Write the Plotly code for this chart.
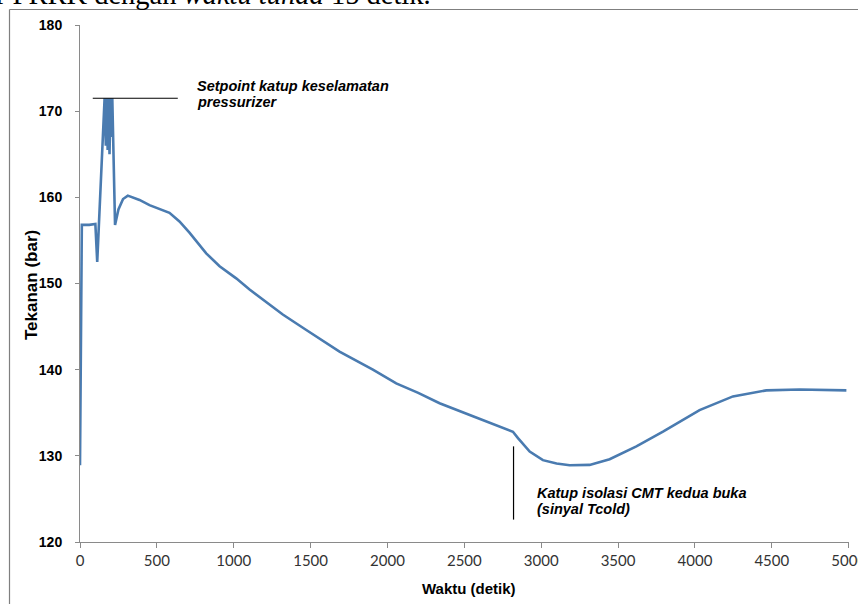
import plotly.graph_objects as go

# Tekanan pressurizer terhadap waktu
waktu = [0, 5, 12, 60, 100, 112, 160, 168, 174, 180, 186, 192, 198, 204, 210, 228,
         250, 280, 311, 387, 452, 582, 647, 712, 756, 821, 908, 1016, 1103, 1200,
         1319, 1472, 1688, 1905, 2057, 2200, 2339, 2556, 2700, 2816, 2849, 2925,
         3011, 3100, 3185, 3315, 3445, 3619, 3792, 3922, 4030, 4247, 4464, 4681, 4985]
tekanan = [128.9, 148.3, 156.8, 156.8, 156.9, 152.5, 171.5, 166.0, 171.5, 165.5, 171.5, 165.0, 171.5, 167.0, 171.5, 156.8,
           158.6, 159.8, 160.2, 159.7, 159.1, 158.2, 157.2, 155.9, 154.9, 153.5, 152.0, 150.6, 149.3, 148.0,
           146.4, 144.6, 142.1, 140.0, 138.4, 137.3, 136.1, 134.6, 133.6, 132.8, 132.05, 130.5,
           129.5, 129.1, 128.9, 128.95, 129.6, 131.1, 132.8, 134.2, 135.3, 136.9, 137.6, 137.7, 137.6]

x_ticks = [0, 500, 1000, 1500, 2000, 2500, 3000, 3500, 4000, 4500, 5000]
y_ticks = [120, 130, 140, 150, 160, 170, 180]

setpoint = 171.5
cmt_buka = 2820

L, T, W, H = 80, 25, 769, 517
FIG_W, FIG_H = 858, 604


def px(xp):
    return (xp - L) / W


def py(yp):
    return 1 - (yp - T) / H


fig = go.Figure()
fig.add_trace(go.Scatter(x=waktu, y=tekanan, mode="lines",
                         line=dict(color="#4a7bb0", width=2.6), showlegend=False))

# Garis setpoint katup keselamatan dan penanda pembukaan katup CMT
fig.add_shape(type="line", x0=83, x1=636, y0=setpoint, y1=setpoint,
              line=dict(color="black", width=1.2))
fig.add_shape(type="line", x0=cmt_buka, x1=cmt_buka, y0=131.1, y1=122.6,
              line=dict(color="black", width=1.2))

# Bingkai halaman
fig.add_shape(type="line", xref="paper", yref="paper", x0=px(9.5), x1=px(860),
              y0=py(9.5), y1=py(9.5), line=dict(color="#7f7f7f", width=1.2))
fig.add_shape(type="line", xref="paper", yref="paper", x0=px(9.5), x1=px(9.5),
              y0=py(9.5), y1=py(610), line=dict(color="#7f7f7f", width=1.2))

note_font = dict(family="Liberation Sans", size=14.5, color="black", weight="bold", style="italic")
notes = [
    ("Setpoint katup keselamatan", 195, 85.5),
    ("pressurizer", 195, 101.5),
    ("Katup isolasi CMT kedua buka", 535, 493),
    ("(sinyal Tcold)", 535, 509),
]
for txt, xp, yp in notes:
    fig.add_annotation(text=txt, xref="paper", yref="paper", x=px(xp), y=py(yp),
                       xanchor="left", yanchor="middle", showarrow=False, font=note_font)

# Judul sumbu
fig.add_annotation(text="Tekanan (bar)", xref="paper", yref="paper", x=px(31), y=py(285),
                   xanchor="center", yanchor="middle", textangle=-90, showarrow=False,
                   font=dict(family="Liberation Sans", size=17, color="black", weight="bold"))
fig.add_annotation(text="Waktu (detik)", xref="paper", yref="paper", x=px(469), y=py(588),
                   xanchor="center", yanchor="middle", showarrow=False,
                   font=dict(family="Liberation Sans", size=15, color="black", weight="bold"))

# Teks kalimat di atas grafik
fig.add_annotation(text="r PRRK dengan <i>waktu tunda</i> 15 detik.", xref="paper", yref="paper",
                   x=px(433), y=py(11.5), xanchor="right", yanchor="bottom", showarrow=False,
                   font=dict(family="Liberation Serif", size=28.5, color="black"))

fig.update_xaxes(range=[0, 5002], tickvals=x_ticks, ticktext=[str(v) for v in x_ticks],
                 showgrid=False, zeroline=False, showline=True, linecolor="#8a8a8a", linewidth=1,
                 ticks="outside", ticklen=5, tickcolor="#8a8a8a", ticklabeloverflow="allow",
                 automargin=False,
                 tickfont=dict(family="Lato", size=15, color="#333333"))
fig.update_yaxes(range=[120, 180], tickvals=y_ticks, showgrid=False, zeroline=False,
                 showline=True, linecolor="#8a8a8a", linewidth=1, automargin=False,
                 ticks="outside", ticklen=4, tickcolor="#8a8a8a", ticklabelstandoff=10,
                 tickfont=dict(family="Liberation Sans", size=14, color="black", weight="bold"))

fig.update_layout(width=FIG_W, height=FIG_H, margin=dict(l=L, r=FIG_W - L - W, t=T, b=FIG_H - T - H),
                  plot_bgcolor="white", paper_bgcolor="white")

fig.write_html("out.html")
